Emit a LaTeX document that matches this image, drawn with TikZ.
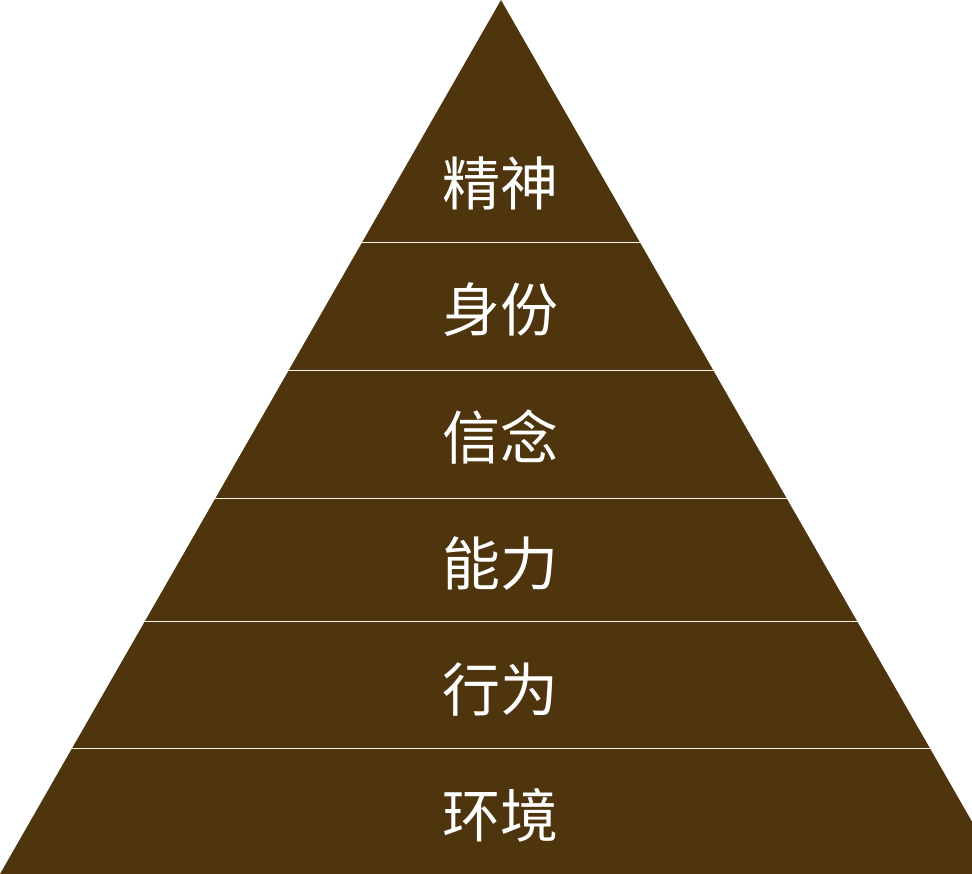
\documentclass[tikz,border=0pt]{standalone}
\usepackage{fontspec}
\newfontfamily\cjk{Noto Sans CJK SC}
\definecolor{earth}{RGB}{78,53,14}
\definecolor{seam}{RGB}{250,244,230}

\begin{document}
\begin{tikzpicture}[x=1pt,y=-1pt,%
  lvl/.style={font=\cjk\fontsize{58}{58}\selectfont,text=white,inner sep=0pt},%
  cut/.style={draw=seam,line width=1pt}%
  ]
  \useasboundingbox (0,0) rectangle (972,874);
  \clip (0,0) rectangle (972,874);
%
  \coordinate (top) at (501,0);
  \coordinate (bl) at (0,874);
  \coordinate (br) at (1002,874);
  \fill[earth] (top) -- (br) -- (bl) -- cycle;
%
  \draw[cut] (362,243) -- (640,243);
  \draw[cut] (288,371) -- (714,371);
  \draw[cut] (215,498) -- (787,498);
  \draw[cut] (144,621) -- (858,621);
  \draw[cut] (71,748) -- (931,748);
%
  \node[lvl] (jingshen) at (500,183) {精神};
  \node[lvl] (shenfen)  at (500,310) {身份};
  \node[lvl] (xinnian)  at (500,437) {信念};
  \node[lvl] (nengli)   at (500,564) {能力};
  \node[lvl] (xingwei)  at (500,690) {行为};
  \node[lvl] (huanjing) at (500,815) {环境};
%
\end{tikzpicture}
\end{document}
